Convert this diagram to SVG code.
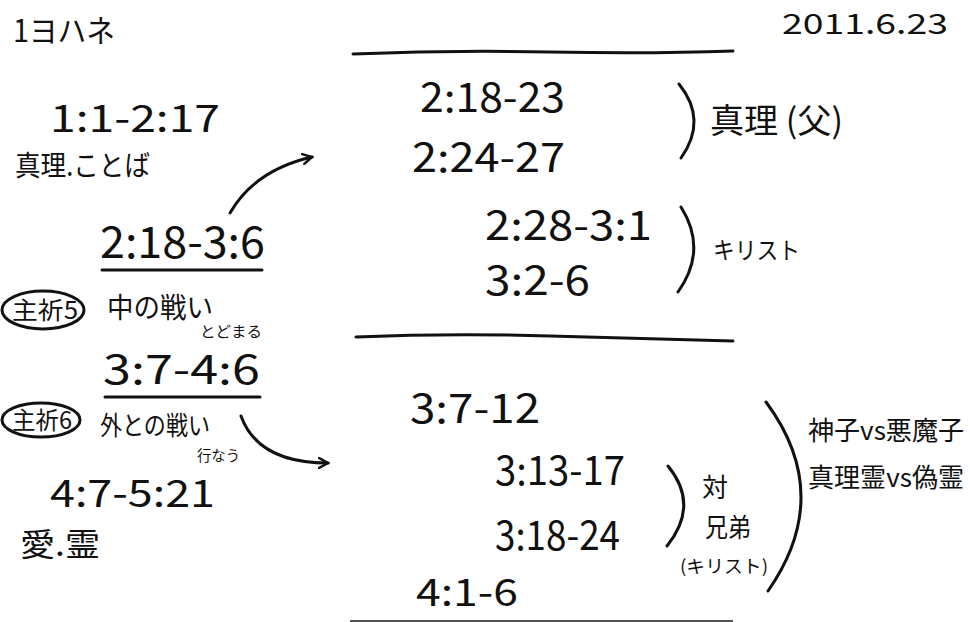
<svg xmlns="http://www.w3.org/2000/svg" width="970" height="622" viewBox="0 0 970 622">
<defs>
<style>
text{font-family:"Noto Sans CJK JP","Noto Sans","Liberation Sans",sans-serif;fill:#111;}
.ref{font-size:40px;}
.jp{font-size:28px;}
.sm{font-size:15px;}
.ln{stroke:#111;stroke-width:3;fill:none;stroke-linecap:round;}
.br{stroke:#111;stroke-width:3;fill:none;stroke-linecap:round;}
</style>
<marker id="ah" viewBox="0 0 12 12" refX="10" refY="6" markerWidth="12" markerHeight="12" markerUnits="userSpaceOnUse" orient="auto">
<path d="M1,1 L10,6 L1,11" fill="none" stroke="#111" stroke-width="2.5" stroke-linecap="round"/>
</marker>
</defs>
<rect width="970" height="622" fill="#fff"/>

<g id="title"><text x="13" y="42" font-size="31" textLength="102" lengthAdjust="spacingAndGlyphs">1ヨハネ</text></g>
<g id="date"><text x="782" y="34" font-size="28" textLength="166" lengthAdjust="spacingAndGlyphs">2011.6.23</text></g>

<g id="n-1-1"><text x="50" y="132" font-size="38" textLength="170" lengthAdjust="spacingAndGlyphs">1:1-2:17</text>
<text x="15" y="176" class="jp" textLength="135" lengthAdjust="spacingAndGlyphs">真理.ことば</text></g>

<g id="n-2-18"><text x="100" y="258" font-size="44" textLength="165" lengthAdjust="spacingAndGlyphs">2:18-3:6</text>
<line class="ln" x1="102" y1="270" x2="262" y2="270"/></g>

<g id="n-shu5"><ellipse cx="43" cy="310" rx="41" ry="19" class="ln" stroke-width="2.5"/>
<text x="12" y="319" font-size="24" textLength="66" lengthAdjust="spacingAndGlyphs">主祈5</text>
<text x="107" y="318" class="jp" textLength="106" lengthAdjust="spacingAndGlyphs">中の戦い</text>
<text x="200" y="337" class="sm" textLength="62" lengthAdjust="spacingAndGlyphs">とどまる</text></g>

<g id="n-3-7"><text x="103" y="384" font-size="40" textLength="157" lengthAdjust="spacingAndGlyphs">3:7-4:6</text>
<line class="ln" x1="105" y1="397" x2="260" y2="397"/></g>

<g id="n-shu6"><ellipse cx="41" cy="420" rx="39" ry="17" class="ln" stroke-width="2.5"/>
<text x="12" y="429" font-size="24" textLength="60" lengthAdjust="spacingAndGlyphs">主祈6</text>
<text x="100" y="435" font-size="26" textLength="110" lengthAdjust="spacingAndGlyphs">外との戦い</text>
<text x="197" y="461" font-size="15" textLength="43" lengthAdjust="spacingAndGlyphs">行なう</text></g>

<g id="n-4-7"><text x="50" y="507" font-size="38" textLength="165" lengthAdjust="spacingAndGlyphs">4:7-5:21</text>
<text x="20" y="556" font-size="32" textLength="80" lengthAdjust="spacingAndGlyphs">愛.霊</text></g>

<g id="dividers">
<path class="ln" d="M353,54 Q450,50 550,52 T733,51"/>
<path class="ln" d="M356,337 Q450,333 550,336 T733,341"/>
<line x1="350" y1="621" x2="733" y2="621" stroke="#555" stroke-width="2"/>
</g>

<g id="sec1">
<text x="420" y="112" class="ref" textLength="145" lengthAdjust="spacingAndGlyphs">2:18-23</text>
<text x="412" y="172" class="ref" textLength="153" lengthAdjust="spacingAndGlyphs">2:24-27</text>
<path class="br" d="M679,84 Q708,120 681,158"/>
<text x="710" y="133" font-size="34" textLength="133" lengthAdjust="spacingAndGlyphs">真理 (父)</text>
</g>

<g id="sec2">
<text x="485" y="240" class="ref" textLength="167" lengthAdjust="spacingAndGlyphs">2:28-3:1</text>
<text x="485" y="295" class="ref" textLength="105" lengthAdjust="spacingAndGlyphs">3:2-6</text>
<path class="br" d="M681,207 Q708,250 678,292"/>
<text x="713" y="259" font-size="24" textLength="87" lengthAdjust="spacingAndGlyphs">キリスト</text>
</g>

<g id="sec3">
<text x="410" y="423" class="ref" textLength="130" lengthAdjust="spacingAndGlyphs">3:7-12</text>
<text x="495" y="485" class="ref" textLength="130" lengthAdjust="spacingAndGlyphs">3:13-17</text>
<text x="495" y="550" class="ref" textLength="125" lengthAdjust="spacingAndGlyphs">3:18-24</text>
<text x="416" y="606" font-size="38" textLength="102" lengthAdjust="spacingAndGlyphs">4:1-6</text>
<path class="br" d="M668,466 Q700,505 667,546"/>
<text x="702" y="497" font-size="26">対</text>
<text x="705" y="537" font-size="26" textLength="46" lengthAdjust="spacingAndGlyphs">兄弟</text>
<text x="680" y="573" font-size="18" textLength="88" lengthAdjust="spacingAndGlyphs">(キリスト)</text>
<path class="br" d="M766,402 Q835,495 768,591"/>
<text x="808" y="440" font-size="26" textLength="156" lengthAdjust="spacingAndGlyphs">神子vs悪魔子</text>
<text x="808" y="487" font-size="26" textLength="156" lengthAdjust="spacingAndGlyphs">真理霊vs偽霊</text>
</g>

<g id="connectors">
<path class="ln" d="M230,213 Q255,170 312,157" marker-end="url(#ah)"/>
<path class="ln" d="M241,416 Q258,463 328,463" marker-end="url(#ah)"/>
</g>
</svg>
